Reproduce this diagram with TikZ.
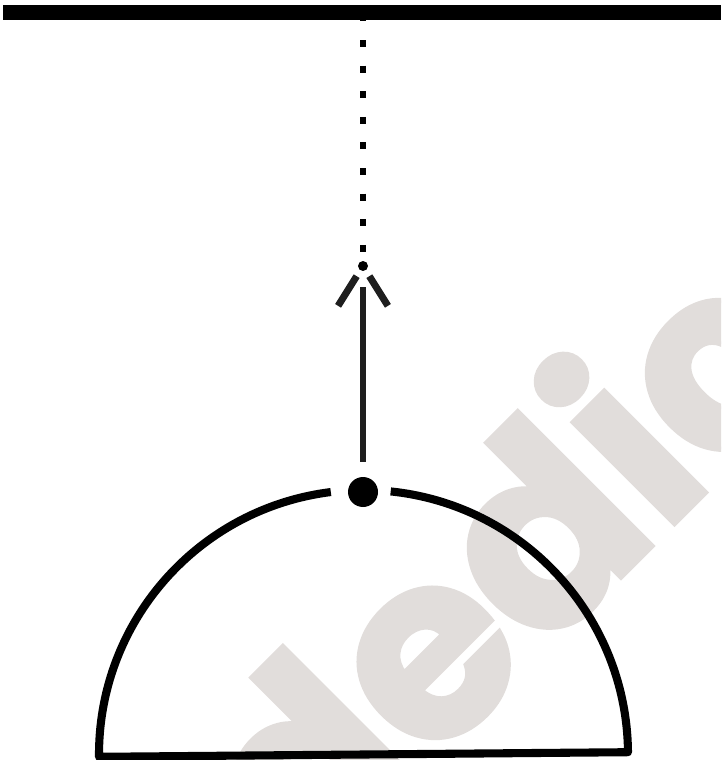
\documentclass[tikz,border=0pt]{standalone}
\usepackage{fontspec}
\newfontfamily\markfont{Poppins}[BoldFeatures={FakeBold=2}]
\definecolor{markgray}{RGB}{225,221,219}
\definecolor{shaftgray}{RGB}{30,30,30}

\begin{document}
\begin{tikzpicture}[x=0.02cm, y=-0.02cm,
    ceiling/.style={line width=8.5pt},
    dotline/.style={line width=3.97pt, dash pattern=on 3.97pt off 10.6pt, shorten >=4.8pt},
    shaft/.style={shaftgray, line width=3.97pt, shorten <=8.5pt, shorten >=9pt},
    headline/.style={shaftgray, line width=3.97pt},
    dome/.style={line width=4.6pt, line join=round},
    ball/.style={circle, fill, inner sep=0pt}]
    \useasboundingbox (0,0) rectangle (721,760);
    \begin{scope}
        \clip (0,0) rectangle (721,760);
        \node[markgray, rotate=45, anchor=base west, inner sep=0pt,
            font=\markfont\bfseries\fontsize{146}{146}\selectfont] (mark) at (305,893) {dedic};
    \end{scope}
    \coordinate (left) at (3,12.5);
    \coordinate (right) at (721,12.5);
    \coordinate (top) at (363,14.5);
    \node[ball, minimum size=0.2cm] (tip) at (363,266) {};
    \node[ball, minimum size=0.6cm] (hub) at (363,492) {};
    \draw[dotline] (top) -- (tip);
    \draw[ceiling] (left) -- (right);
    \draw[shaft] (hub) -- (tip);
    \draw[headline] (tip) ++(122:12) -- ++(122:35);
    \draw[headline] (tip) ++(58:12) -- ++(58:35);
    % half dome, tilted a little
    \begin{scope}[rotate around={0.5:(363.5,754.5)}]
        \draw[dome] (363.5,754.5) ++(-96.6:264.5) arc[start angle=-96.6, end angle=-180, radius=264.5]
            -- ++(529,0) arc[start angle=0, end angle=-83.6, radius=264.5];
    \end{scope}
\end{tikzpicture}
\end{document}
